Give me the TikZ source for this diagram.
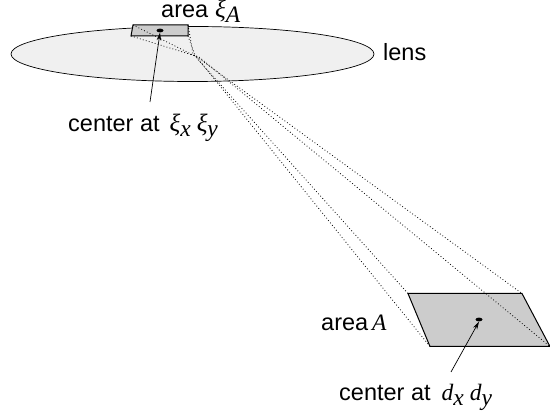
\documentclass[tikz,border=0pt]{standalone}
\usepackage{fontspec}
\setmainfont{Liberation Sans}
\newfontfamily\ital{Liberation Serif}
\usetikzlibrary{arrows.meta,shapes.geometric}
\tikzset{
  x=1pt,y=-1pt,
  lab/.style={inner sep=0pt,font=\fontsize{23.5}{26}\selectfont},
  ray/.style={line width=0.8pt,dash pattern=on 0.8pt off 2.3pt},
  patch/.style={draw=black,fill=black!20,line width=1pt,line join=miter},
  spot/.style={ellipse,fill=black,inner sep=0pt,minimum width=7pt,minimum height=3.8pt},
  lead/.style={-{Stealth[length=8pt,width=4.5pt]},line width=0.7pt}
}
\newcommand{\greekxi}{{\fontsize{25}{25}\selectfont\itshape\ital\symbol{"03BE}}}
\newcommand{\tm}[1]{{\itshape\ital #1}}
\newcommand{\subs}[1]{\raisebox{-4.5pt}{\tm{#1}}}
\begin{document}
\begin{tikzpicture}
\useasboundingbox (0,0) rectangle (550,419);
\node[draw=black,fill=black!6,ellipse,line width=0.7pt,minimum width=363pt,minimum height=55pt,inner sep=0pt] (lens) at (192.5,54) {};
\coordinate (stl) at (133,25);
\coordinate (str) at (188,25);
\coordinate (sbr) at (188,36);
\coordinate (sbl) at (131,36);
\coordinate (btl) at (408,293.5);
\coordinate (btr) at (522,293.5);
\coordinate (bbr) at (550,346.5);
\coordinate (bbl) at (430,346.5);
\filldraw[patch] (stl) -- (str) -- (sbr) -- (sbl) -- cycle;
\filldraw[patch] (btl) -- (btr) -- (bbr) -- (bbl) -- cycle;
\draw[ray] (stl) -- (197,57) -- (btr);
\draw[ray] (sbl) -- (199,57) -- (bbr);
\draw[ray] (str) -- (193,54) -- (btl);
\draw[ray] (sbr) -- (195,55) -- (bbl);
\node[spot] (c1) at (160,30.5) {};
\node[spot] (c2) at (479,319.5) {};
\node[lab,anchor=base west] (t1) at (161,18) {area\hspace{7pt}\greekxi\subs{A}};
\node[lab,anchor=base west] (t2) at (383,61) {lens};
\node[lab,anchor=base west] (t3) at (68,132) {center at\hspace{10pt}\greekxi\subs{x}\hspace{6pt}\greekxi\subs{y}};
\node[lab,anchor=base west] (t4) at (321,331) {area\,\tm{A}};
\node[lab,anchor=base west] (t5) at (339,401) {center at\hspace{11pt}\tm{d}\subs{x}\hspace{6pt}\tm{d}\subs{y}};
\coordinate (a1) at (150,102);
\coordinate (a2) at (451,372);
\draw[lead] (a1) -- (c1.south);
\draw[lead] (a2) -- (c2.south);
\end{tikzpicture}
\end{document}
